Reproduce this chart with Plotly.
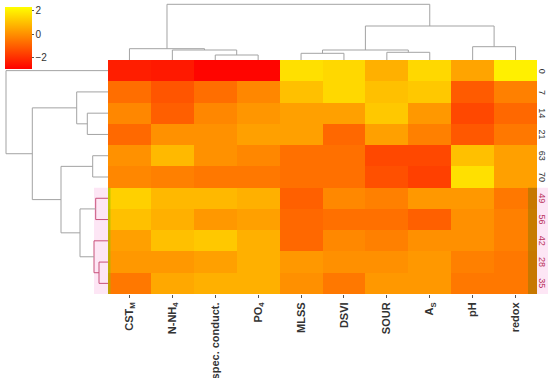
import plotly.graph_objects as go

# ---------------- data ----------------
col_labels = ["CST<sub>M</sub>", "N-NH<sub>4</sub>", "spec. conduct.", "PO<sub>4</sub>",
              "MLSS", "DSVI", "SOUR", "A<sub>S</sub>", "pH", "redox"]
row_labels = ["0", "7", "14", "21", "63", "70", "49", "56", "42", "28", "35"]

z_0  = [-2.32, -2.42, -2.84, -2.84, 1.70, 1.53, 0.70, 1.53, 0.45, 2.03]
z_7  = [-0.66, -1.18, -0.66, -0.15, 1.03, 1.53, 1.03, 1.20, -1.05, -0.29]
z_14 = [-0.15, -0.97, -0.15, 0.17, 0.37, 0.37, 1.20, 0.21, -1.45, -0.79]
z_21 = [-0.77, 0.06, 0.06, 0.37, 0.37, -0.79, 0.37, -0.29, -1.12, -0.46]
z_63 = [0.06, 0.89, 0.06, -0.15, -0.62, -0.62, -1.45, -1.45, 1.03, 0.37]
z_70 = [-0.15, -0.29, -0.46, -0.46, -0.62, -0.62, -1.28, -1.62, 1.70, 0.37]
z_49 = [1.37, 0.87, 0.87, 0.70, -0.95, -0.12, -0.29, 0.21, 0.21, -0.46]
z_56 = [1.03, 0.70, 0.21, 0.37, -0.79, -0.62, -0.62, -0.95, 0.04, -0.29]
z_42 = [0.37, 1.03, 1.20, 0.70, -0.79, -0.12, -0.29, 0.04, 0.04, -0.29]
z_28 = [0.21, 0.21, 0.37, 0.70, 0.21, 0.04, 0.04, 0.21, -0.29, -0.46]
z_35 = [-0.46, 0.54, 0.70, 0.70, 0.04, -0.46, 0.21, 0.21, -0.46, -0.46]
z_rows = [z_0, z_7, z_14, z_21, z_63, z_70, z_49, z_56, z_42, z_28, z_35]

colorbar_ticks = [-2, 0, 2]
z_min, z_max = -2.94, 2.34

# linkage (scipy-like: ids < n are leaves, ids >= n are previous merges), heights
col_links = [[2, 3, 5.0], [1, 10, 10.0], [0, 11, 11.3], [4, 5, 6.7], [6, 7, 7.7],
             [13, 14, 10.0], [8, 9, 13.3], [15, 16, 34.0], [12, 17, 55.7]]
row_links = [[9, 10, 9.0], [6, 7, 12.3], [8, 11, 14.0], [4, 5, 15.3], [2, 3, 20.7],
             [12, 13, 28.0], [1, 15, 31.3], [14, 16, 47.0], [17, 18, 75.7], [0, 19, 102.0]]
highlight_rows = [6, 7, 8, 9, 10]

# ---------------- layout geometry ----------------
W, H = 550, 378
hm_x0, hm_x1 = 108, 537
hm_y0, hm_y1 = 60, 294
GRAY = "#a3a3a3"
PINKLINE = "#c8507a"


def segments(n, links):
    pos = {i: float(i) for i in range(n)}
    hgt = {i: 0.0 for i in range(n)}
    members = {i: {i} for i in range(n)}
    out = []
    for k, (a, b, h) in enumerate(links):
        nid = n + k
        out.append(([pos[a], pos[a], pos[b], pos[b]], [hgt[a], h, h, hgt[b]], members[a] | members[b]))
        pos[nid] = (pos[a] + pos[b]) / 2
        hgt[nid] = h
        members[nid] = members[a] | members[b]
    return out


fig = go.Figure()

fig.add_trace(go.Heatmap(
    z=z_rows, x=list(range(len(col_labels))), y=list(range(len(row_labels))),
    colorscale=[[0, "rgb(255,0,0)"], [1, "rgb(255,255,0)"]],
    zmin=z_min, zmax=z_max, xaxis="x", yaxis="y",
    colorbar=dict(x=5 / W, xanchor="left", y=1 - 7 / H, yanchor="top",
                  len=62 / H, lenmode="fraction", thickness=27, thicknessmode="pixels",
                  outlinewidth=0, xpad=0, ypad=0, tickvals=colorbar_ticks,
                  ticktext=["\u22122", "0", "2"], ticks="outside", ticklen=2,
                  tickcolor="#555", tickfont=dict(size=10, color="#333", family="Liberation Sans")),
    hoverinfo="skip",
))

# top dendrogram (columns)
for xs, ys, mem in segments(len(col_labels), col_links):
    fig.add_trace(go.Scatter(x=xs, y=ys, mode="lines", xaxis="x", yaxis="y3",
                             line=dict(color=GRAY, width=1), hoverinfo="skip", showlegend=False))

# left dendrogram (rows)
for ys, xs, mem in segments(len(row_labels), row_links):
    col = PINKLINE if (mem <= set(highlight_rows) and max(xs) < 20) else GRAY
    fig.add_trace(go.Scatter(x=xs, y=ys, mode="lines", xaxis="x2", yaxis="y",
                             line=dict(color=col, width=1), hoverinfo="skip", showlegend=False))

lo, hi = min(highlight_rows) - 0.5, max(highlight_rows) + 0.5
shapes = [
    dict(type="rect", xref="paper", yref="y", x0=94 / W, x1=548 / W, y0=lo, y1=hi + 0.06,
         fillcolor="#fde6f5", line=dict(width=0), layer="below"),
    dict(type="rect", xref="paper", yref="y", x0=528 / W, x1=hm_x1 / W, y0=lo, y1=hi,
         fillcolor="rgba(130,120,0,0.45)", line=dict(width=0), layer="above"),
    dict(type="rect", xref="paper", yref="y", x0=hm_x0 / W, x1=110.5 / W, y0=lo, y1=hi,
         fillcolor="rgba(150,190,0,0.6)", line=dict(width=0), layer="above"),
]

annotations = []
for i, lab in enumerate(row_labels):
    annotations.append(dict(x=542 / W, xref="paper", y=i, yref="y", text=lab, showarrow=False,
                            textangle=90, xanchor="center", yanchor="middle",
                            font=dict(size=9, family="Liberation Sans",
                                      color="#b8305a" if i in highlight_rows else "#333")))

fig.update_layout(
    width=W, height=H, margin=dict(l=0, r=0, t=0, b=0, autoexpand=False),
    paper_bgcolor="white", plot_bgcolor="rgba(0,0,0,0)", showlegend=False,
    xaxis=dict(domain=[hm_x0 / W, hm_x1 / W], range=[-0.5, 9.5], tickvals=list(range(len(col_labels))),
               ticktext=col_labels, tickangle=-90, ticks="outside", ticklen=3, tickcolor="#555",
               showgrid=False, zeroline=False, showline=False, anchor="y", automargin=False,
               tickfont=dict(size=11, family="Liberation Sans", color="#333", weight="bold")),
    yaxis=dict(domain=[1 - hm_y1 / H, 1 - hm_y0 / H], range=[10.5, -0.5], showticklabels=False,
               showgrid=False, zeroline=False, ticks="", anchor="x"),
    yaxis3=dict(domain=[1 - hm_y0 / H, 1], range=[0, 60], visible=False, anchor="x"),
    xaxis2=dict(domain=[0, hm_x0 / W], range=[108, 0], visible=False, anchor="y"),
    shapes=shapes, annotations=annotations,
)

fig.write_html("out.html", config={"displayModeBar": False},
               post_script="document.body.style.margin='0px';")
